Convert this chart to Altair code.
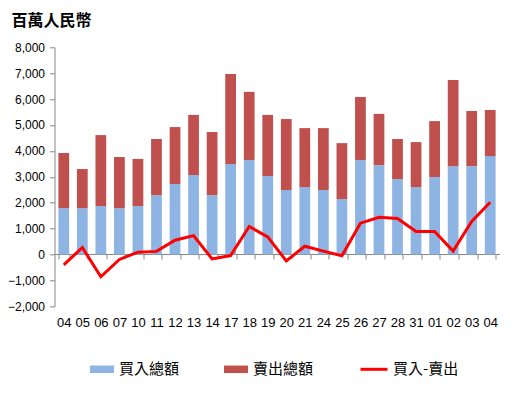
import altair as alt
import pandas as pd

# ---- data ----
days = ["04", "05", "06", "07", "10", "11", "12", "13", "14", "17", "18", "19",
        "20", "21", "24", "25", "26", "27", "28", "31", "01", "02", "03", "04"]
buy_total = [1790, 1790, 1870, 1790, 1870, 2290, 2720, 3070, 2290, 3490, 3650, 3030,
             2490, 2600, 2490, 2140, 3650, 3450, 2910, 2600, 2990, 3410, 3410, 3800]
sell_total = [2130, 1510, 2740, 1970, 1820, 2170, 2200, 2320, 2440, 3480, 2630, 2360,
              2740, 2280, 2390, 2160, 2430, 1980, 1550, 1740, 2160, 3330, 2130, 1780]
net = [-400, 270, -860, -190, 90, 120, 550, 730, -170, -40, 1080, 680,
       -250, 320, 130, -50, 1210, 1440, 1390, 890, 890, 130, 1280, 2020]

s_buy = "買入總額"
s_sell = "賣出總額"
s_net = "買入-賣出"
y_ticks = list(range(-2000, 8001, 1000))

rows = []
for i in range(len(days)):
    rows.append({"i": i, "series": s_buy, "ord": 0, "value": buy_total[i]})
    rows.append({"i": i, "series": s_sell, "ord": 1, "value": sell_total[i]})
bars_df = pd.DataFrame(rows)
line_df = pd.DataFrame({"i": list(range(len(days))), "value": net, "name": s_net})

label_expr = "[" + ",".join("'%s'" % d for d in days) + "][datum.value]"

W, H = 445, 259
LAT = "Liberation Sans"
CJK = "Noto Sans CJK TC"


def x_enc():
    return alt.X(
        "i:O",
        title=None,
        scale=alt.Scale(paddingInner=0.42, paddingOuter=0.21),
        axis=alt.Axis(
            orient="bottom", offset=-52.3, labelExpr=label_expr, labelAngle=0,
            labelOverlap=False, labelFont=LAT, labelFontSize=13, labelColor="#000000",
            labelPadding=58, tickBand="extent", tickSize=5, tickColor="#868686",
            domainColor="#868686", domainWidth=1, grid=False,
        ),
    )


def y_enc(stack=None):
    kw = {}
    if stack:
        kw["stack"] = stack
    return alt.Y(
        "value:Q", title=None,
        scale=alt.Scale(domain=[-2000, 8000], nice=False),
        axis=alt.Axis(values=y_ticks, format=",.0f", labelFont=LAT, labelFontSize=12,
                      labelColor="#000000", labelPadding=5, tickSize=5,
                      labelOverlap=False, tickColor="#868686",
                      domainColor="#868686", grid=False),
        **kw,
    )


bars = alt.Chart(bars_df).mark_bar().encode(
    x=x_enc(),
    y=y_enc("zero"),
    color=alt.Color(
        "series:N",
        scale=alt.Scale(domain=[s_buy, s_sell], range=["#8DB4E2", "#C0504D"]),
        legend=alt.Legend(
            orient="none", legendX=35.5, legendY=310, direction="horizontal",
            title=None, symbolType="M-1,-0.3125H1V0.3125H-1Z", symbolSize=576,
            symbolStrokeWidth=0, labelFont=CJK, labelFontSize=15, labelColor="#000000",
            labelOffset=5, columnPadding=44,
        ),
    ),
    order=alt.Order("ord:Q"),
)

line = alt.Chart(line_df).mark_line(strokeWidth=3).encode(
    x=x_enc(),
    y=y_enc(),
    stroke=alt.Stroke(
        "name:N",
        scale=alt.Scale(domain=[s_net], range=["#FF0000"]),
        legend=alt.Legend(
            orient="none", legendX=304.5, legendY=307, direction="horizontal",
            title=None, symbolType="stroke", symbolSize=729, symbolStrokeWidth=3,
            labelFont=CJK, labelFontSize=15, labelColor="#000000", labelOffset=4,
        ),
    ),
)

chart = alt.layer(bars, line).properties(
    width=W, height=H,
    background="#FFFFFF",
    title=alt.TitleParams("百萬人民幣", anchor="start", frame="group", font=CJK,
                          fontSize=16, fontWeight="bold", color="#000000", dx=-43,
                          offset=12),
    autosize=alt.AutoSizeParams(type="none"),
    padding={"left": 46.5, "top": 39.3, "right": 8, "bottom": 85},
).configure_view(stroke=None).configure_axis(grid=False)

chart.save("out.html", embed_options={"renderer": "svg", "actions": False})
